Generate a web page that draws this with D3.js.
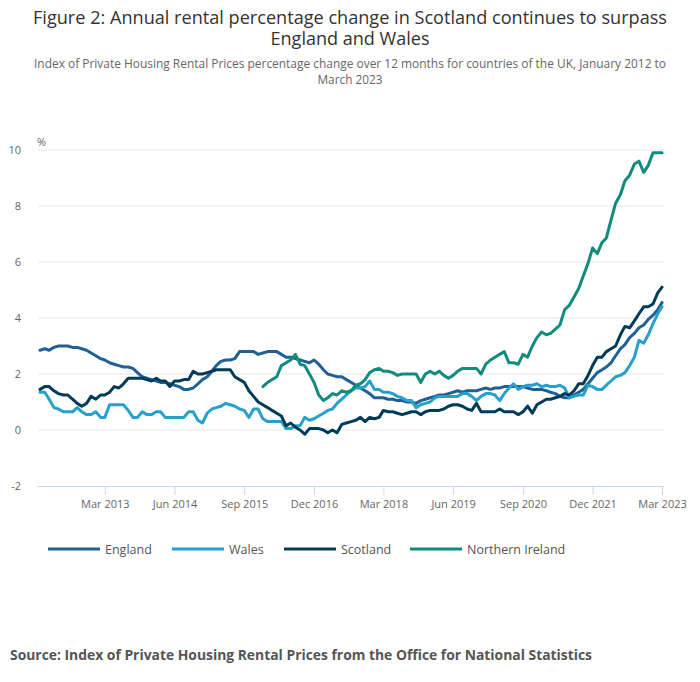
<!DOCTYPE html>
<html>
<head>
<meta charset="utf-8">
<script src="https://cdn.jsdelivr.net/npm/d3@7"></script>
<style>
  body { margin: 0; background: #fff; }
  svg { font-family: "Open Sans", sans-serif; display: block; }
</style>
</head>
<body>
<svg id="chart" width="700" height="682"></svg>
<script>
// monthly figures, Jan 2012 to Mar 2023 (NI from Jan 2016)
const firstMonth = "Jan 2012";
const lastMonth = "Mar 2023";
const niFirstMonth = "Jan 2016";

const england = [2.85,2.9,2.85,2.95,3.0,3.0,3.0,2.95,2.95,2.9,
  2.85,2.75,2.65,2.55,2.5,2.4,2.35,2.3,2.25,2.25,
  2.2,2.05,1.9,1.85,1.8,1.75,1.7,1.7,1.65,1.6,
  1.55,1.45,1.45,1.5,1.65,1.8,1.9,2.1,2.3,2.45,
  2.5,2.5,2.55,2.8,2.8,2.8,2.8,2.7,2.75,2.8,
  2.8,2.8,2.7,2.6,2.6,2.55,2.5,2.45,2.4,2.5,
  2.35,2.15,2.0,1.95,1.9,1.9,1.8,1.7,1.6,1.5,
  1.4,1.3,1.15,1.15,1.15,1.1,1.1,1.05,1.05,1.0,
  1.0,0.95,1.05,1.1,1.15,1.2,1.25,1.25,1.3,1.35,
  1.4,1.35,1.4,1.4,1.4,1.45,1.5,1.45,1.5,1.5,
  1.55,1.55,1.55,1.55,1.55,1.5,1.45,1.45,1.45,1.4,
  1.35,1.3,1.2,1.15,1.15,1.25,1.35,1.45,1.65,1.85,
  2.05,2.15,2.25,2.4,2.65,2.9,3.05,3.3,3.45,3.65,
  3.75,3.95,4.1,4.3,4.55];

const wales = [1.35,1.35,1.1,0.8,0.75,0.65,0.65,0.65,0.8,0.65,
  0.55,0.55,0.65,0.45,0.45,0.9,0.9,0.9,0.9,0.7,
  0.45,0.45,0.65,0.55,0.55,0.65,0.65,0.45,0.45,0.45,
  0.45,0.45,0.65,0.65,0.35,0.25,0.6,0.75,0.8,0.85,
  0.95,0.9,0.85,0.75,0.7,0.45,0.75,0.75,0.4,0.3,
  0.3,0.3,0.3,0.05,0.05,0.15,0.15,0.45,0.35,0.4,
  0.5,0.6,0.7,0.75,0.95,1.1,1.25,1.4,1.5,1.5,
  1.55,1.75,1.45,1.45,1.35,1.35,1.3,1.2,1.15,1.05,
  1.05,0.8,0.9,0.95,1.0,1.15,1.2,1.2,1.2,1.2,
  1.2,1.3,1.3,1.2,1.05,1.2,1.3,1.3,1.25,1.05,
  1.3,1.5,1.65,1.45,1.55,1.6,1.6,1.65,1.55,1.6,
  1.55,1.55,1.6,1.5,1.15,1.2,1.25,1.25,1.6,1.55,
  1.45,1.45,1.6,1.75,1.9,1.95,2.05,2.3,2.6,3.2,
  3.1,3.4,3.8,4.15,4.4];

const scotland = [1.45,1.55,1.55,1.4,1.3,1.25,1.25,1.1,0.95,0.85,
  0.95,1.2,1.1,1.25,1.25,1.35,1.55,1.5,1.65,1.85,
  1.85,1.85,1.85,1.8,1.75,1.85,1.75,1.75,1.55,1.75,
  1.75,1.8,1.8,2.1,2.0,2.0,2.05,2.1,2.15,2.15,
  2.15,2.15,1.9,1.8,1.7,1.4,1.2,1.0,0.9,0.8,
  0.7,0.6,0.5,0.15,0.25,0.1,0.0,-0.15,0.05,0.05,
  0.05,0.0,-0.1,0.0,-0.1,0.2,0.25,0.3,0.35,0.45,
  0.3,0.45,0.4,0.45,0.7,0.65,0.65,0.6,0.55,0.6,
  0.65,0.65,0.55,0.65,0.7,0.7,0.7,0.75,0.85,0.9,
  0.9,0.85,0.75,0.7,0.95,0.65,0.65,0.65,0.65,0.75,
  0.65,0.65,0.65,0.55,0.65,0.85,0.6,0.9,1.0,1.1,
  1.1,1.15,1.2,1.3,1.25,1.4,1.65,1.65,1.95,2.3,
  2.6,2.6,2.8,2.9,3.0,3.4,3.7,3.65,3.9,4.15,
  4.4,4.4,4.5,4.9,5.1];

const northernIreland = [1.55,1.7,1.8,1.9,2.3,2.4,2.5,2.7,2.35,2.3,
  2.0,1.7,1.25,1.05,1.15,1.3,1.25,1.4,1.35,1.4,
  1.6,1.65,1.8,2.05,2.15,2.2,2.1,2.1,2.05,1.95,
  2.0,2.0,2.0,2.0,1.7,2.0,2.1,2.0,2.1,1.95,
  1.85,1.95,2.1,2.2,2.2,2.2,2.2,2.0,2.35,2.5,
  2.6,2.7,2.8,2.4,2.4,2.35,2.7,2.6,3.0,3.3,
  3.5,3.4,3.45,3.6,3.75,4.3,4.45,4.75,5.05,5.5,
  5.95,6.5,6.3,6.7,6.85,7.5,8.1,8.4,8.9,9.1,
  9.5,9.6,9.2,9.45,9.9,9.9,9.9];

const seriesNames = ["England", "Wales", "Scotland", "Northern Ireland"];
const seriesColors = ["#206095", "#27a0cc", "#003c57", "#118c7b"];
const xTickLabels = ["Mar 2013","Jun 2014","Sep 2015","Dec 2016","Mar 2018","Jun 2019","Sep 2020","Dec 2021","Mar 2023"];
const yTicks = [-2, 0, 2, 4, 6, 8, 10];

const parseMonth = d3.timeParse("%b %Y");
const svg = d3.select("#chart");

// title and subtitle, two lines each in one text element
function twoLines(lines, widths, baselines, size, colour) {
  const t = svg.append("text").attr("text-anchor", "middle")
    .attr("font-size", size).attr("fill", colour);
  lines.forEach((s, i) => {
    t.append("tspan").attr("x", 350).attr("y", baselines[i])
      .attr("textLength", widths[i]).attr("lengthAdjust", "spacingAndGlyphs")
      .text(s);
  });
}
twoLines(["Figure 2: Annual rental percentage change in Scotland continues to surpass", "England and Wales"],
  [634, 159], [24, 45], 18, "#333");
twoLines(["Index of Private Housing Rental Prices percentage change over 12 months for countries of the UK, January 2012 to", "March 2023"],
  [632, 65], [68, 84], 12, "#666");

const x = d3.scaleTime()
  .domain([parseMonth(firstMonth), parseMonth(lastMonth)])
  .range([40, 662]);
const y = d3.scaleLinear().domain([-2, 10]).range([486, 150]);

// gridlines
svg.append("g").selectAll("line")
  .data(yTicks.filter(d => d > -2))
  .enter().append("line")
  .attr("x1", 38).attr("x2", 664)
  .attr("y1", d => y(d)).attr("y2", d => y(d))
  .attr("stroke", "#e6e6e6").attr("stroke-width", 1);

// y labels
svg.append("g").selectAll("text")
  .data(yTicks)
  .enter().append("text")
  .attr("x", 21).attr("y", d => y(d) + 4)
  .attr("text-anchor", "end")
  .attr("font-size", 11).attr("fill", "#666")
  .text(d => d);
svg.append("text").attr("x", 37).attr("y", 146)
  .attr("font-size", 11).attr("fill", "#666").text("%");

// x axis
const xAxis = d3.axisBottom(x)
  .tickValues(xTickLabels.map(parseMonth))
  .tickFormat(d3.timeFormat("%b %Y"))
  .tickSize(9)
  .tickSizeOuter(0);
const gx = svg.append("g").attr("transform", "translate(0," + y(-2) + ")").call(xAxis);
gx.select(".domain").attr("stroke", "#ccd6eb").attr("d", "M38,0.5H664");
gx.selectAll(".tick line").attr("stroke", "#ccd6eb");
gx.selectAll(".tick text").attr("font-size", 11).attr("fill", "#666")
  .attr("font-family", "Open Sans").attr("dy", "0.9em");

// lines
const monthsFrom = (start, n) => d3.timeMonth.range(parseMonth(start), d3.timeMonth.offset(parseMonth(start), n));
const allSeries = [
  { name: seriesNames[0], values: england, start: firstMonth },
  { name: seriesNames[1], values: wales, start: firstMonth },
  { name: seriesNames[2], values: scotland, start: firstMonth },
  { name: seriesNames[3], values: northernIreland, start: niFirstMonth }
];
allSeries.forEach((s, i) => {
  const dates = monthsFrom(s.start, s.values.length);
  s.points = s.values.map((v, j) => ({ date: dates[j], value: v }));
  s.color = seriesColors[i];
});

const line = d3.line()
  .x(d => x(d.date))
  .y(d => y(d.value));

svg.append("g").selectAll("path")
  .data(allSeries)
  .enter().append("path")
  .attr("d", d => line(d.points))
  .attr("fill", "none")
  .attr("stroke", d => d.color)
  .attr("stroke-width", 3)
  .attr("stroke-linejoin", "round")
  .attr("stroke-linecap", "round");

// legend
const legendX = [48, 172, 284, 410];
const legend = svg.append("g").selectAll("g")
  .data(allSeries)
  .enter().append("g")
  .attr("transform", (d, i) => "translate(" + legendX[i] + ",549)");
legend.append("line")
  .attr("x1", 0).attr("x2", 52)
  .attr("stroke", d => d.color).attr("stroke-width", 3);
legend.append("text")
  .attr("x", 57).attr("y", 4.5)
  .attr("font-size", 12.5).attr("fill", "#555")
  .text(d => d.name);

// source
svg.append("text").attr("x", 10).attr("y", 660)
  .attr("font-size", 14).attr("font-weight", "bold").attr("fill", "#555")
  .attr("textLength", 582).attr("lengthAdjust", "spacingAndGlyphs")
  .text("Source: Index of Private Housing Rental Prices from the Office for National Statistics");
</script>
</body>
</html>
